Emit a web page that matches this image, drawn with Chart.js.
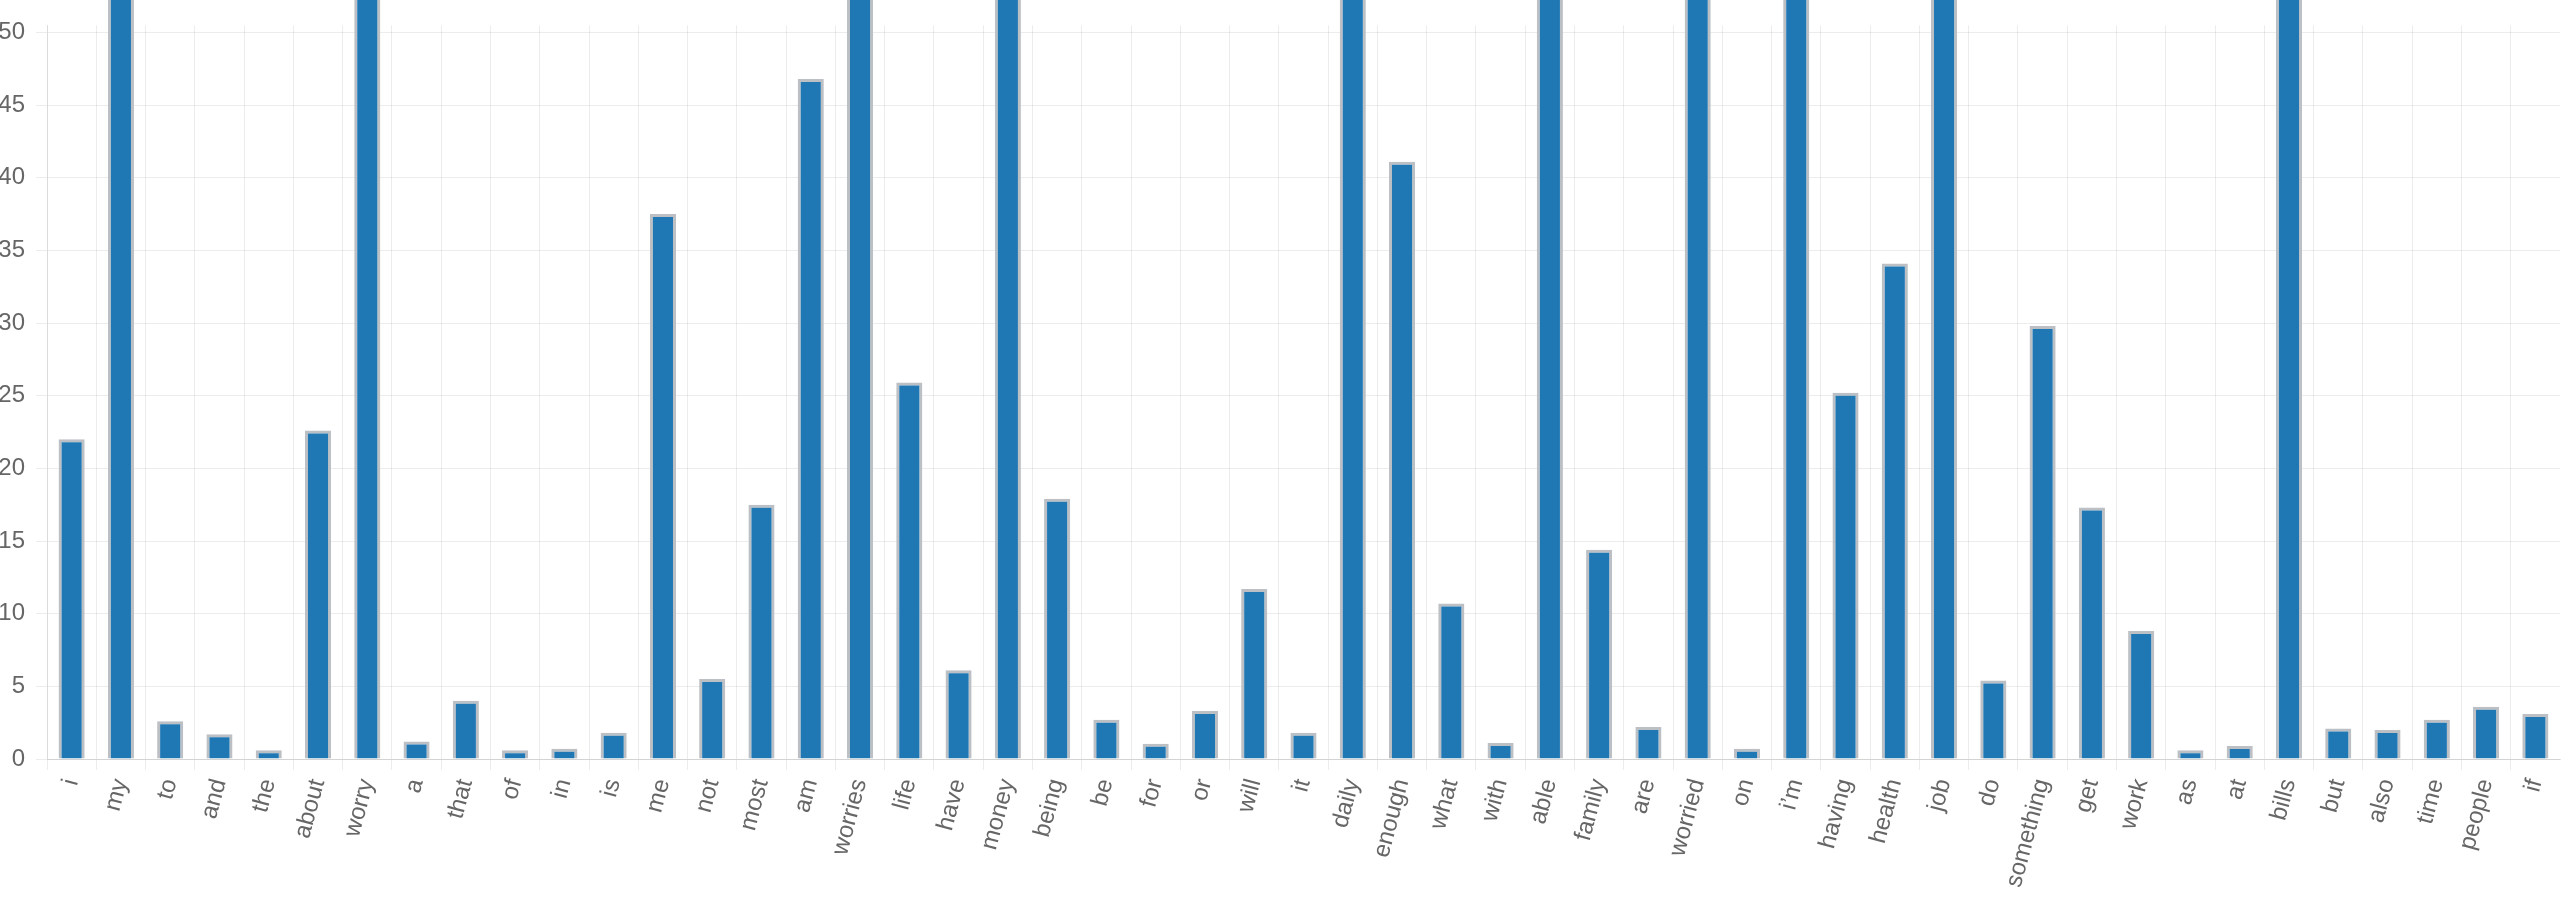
<!DOCTYPE html>
<html>
<head>
<meta charset="utf-8">
<script src="https://cdn.jsdelivr.net/npm/chart.js@4/dist/chart.umd.min.js"></script>
<style>
  html, body { margin: 0; padding: 0; background: #fff; overflow: hidden; }
  #wrap { width: 2572px; height: 918px; }
</style>
</head>
<body>
<div id="wrap"><canvas id="wordChart" width="2572" height="918"></canvas></div>
<script>
// word counts (bars above 50 run off the top, so those are guesses)
const words = ["i", "my", "to", "and", "the", "about", "worry", "a", "that", "of", "in", "is",
  "me", "not", "most", "am", "worries", "life", "have", "money", "being", "be", "for", "or",
  "will", "it", "daily", "enough", "what", "with", "able", "family", "are", "worried", "on",
  "i\u2019m", "having", "health", "job", "do", "something", "get", "work", "as", "at", "bills",
  "but", "also", "time", "people", "if"];

const counts = [22.0, 68, 2.6, 1.7, 0.6, 22.6, 64, 1.2, 4.0, 0.6, 0.7, 1.8,
  37.5, 5.5, 17.5, 46.8, 58, 25.9, 6.1, 62, 17.9, 2.7, 1.05, 3.3,
  11.7, 1.8, 56, 41.1, 10.7, 1.1, 55, 14.4, 2.2, 57, 0.7,
  54, 25.2, 34.1, 60, 5.4, 29.8, 17.3, 8.8, 0.6, 0.9, 59,
  2.1, 2.0, 2.7, 3.6, 3.1];

const yTicks = [0, 5, 10, 15, 20, 25, 30, 35, 40, 45, 50];

Chart.defaults.font.size = 24;
Chart.defaults.color = "#666";

const gridColor = "rgba(0,0,0,0.075)";

const ctx = document.getElementById("wordChart").getContext("2d");
new Chart(ctx, {
  type: "bar",
  data: {
    labels: words,
    datasets: [{
      data: counts,
      backgroundColor: "#1f77b4",
      borderColor: "#bcc0c4",
      borderWidth: 3,
      categoryPercentage: 1,
      barPercentage: 0.53,
      clip: false  // tall bars run past the top of the plot
    }]
  },
  options: {
    responsive: false,
    devicePixelRatio: 1,
    animation: false,
    layout: { padding: { top: 18, right: 12, left: 0, bottom: 0 } },
    plugins: { legend: { display: false }, tooltip: { enabled: false } },
    scales: {
      x: {
        grid: {
          // the right-most boundary line is not in the picture
          color: (c) => c.type === "tick" ? gridColor : "rgba(0,0,0,0)",
          tickLength: 11
        },
        border: { color: "rgba(0,0,0,0.11)" },
        ticks: { minRotation: 75, maxRotation: 75, padding: 6, autoSkip: false },
        afterFit: (scale) => { scale.height = 159; }
      },
      y: {
        min: 0,
        max: 50.48,
        afterBuildTicks: (scale) => { scale.ticks = yTicks.map(v => ({ value: v })); },
        grid: { color: gridColor, tickLength: 11 },
        border: { color: gridColor },
        ticks: { padding: 11 },
        afterFit: (scale) => { scale.width = 47; }
      }
    }
  }
});
</script>
</body>
</html>
